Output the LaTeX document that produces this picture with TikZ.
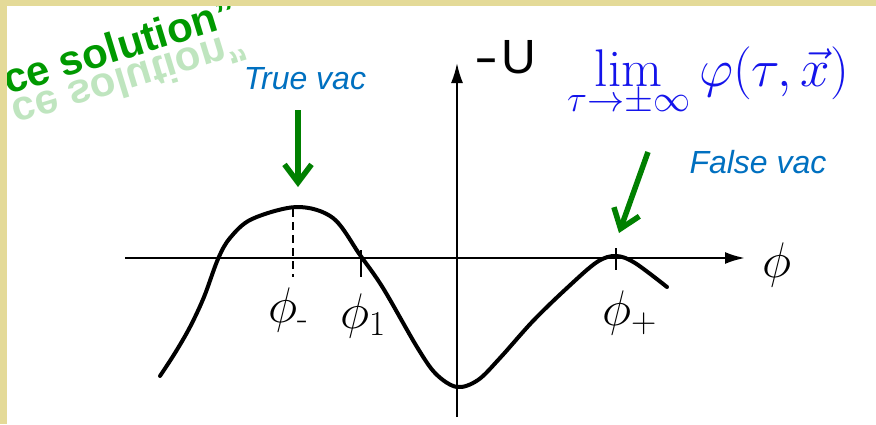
\RequirePackage{fix-cm}
\documentclass[tikz,border=0pt]{standalone}
\usepackage{amsmath}
\usepackage{fontspec}
\setsansfont{Liberation Sans}
\usepackage{tikz}
\usetikzlibrary{arrows.meta, calc}
\usepackage{xcolor}
\definecolor{framebeige}{RGB}{228, 218, 152}
\definecolor{vacblue}{RGB}{0, 112, 192}
\definecolor{vacgreen}{RGB}{0, 128, 0}
\definecolor{titlegreen}{RGB}{0, 153, 0}
\definecolor{limblue}{RGB}{20, 20, 235}

\begin{document}
\begin{tikzpicture}[x=1pt, y=-1pt,
  axis/.style={line width=2.5pt, -{Latex[length=20pt, width=12pt]}},
  curve/.style={line width=4pt, line join=round, line cap=round},
  phitick/.style={line width=2.5pt},
  vaclabel/.style={inner sep=0pt, text=vacblue, font=\fontsize{32}{38}\selectfont\sffamily\itshape},
  vacarrow/.style={line width=5.5pt, vacgreen, -{Straight Barb[length=18pt, width=27pt]}},
  philabel/.style={inner sep=0pt, anchor=base west, font=\fontsize{50}{60}\selectfont},
  title/.style={inner sep=0pt, anchor=base west, rotate=17, text=titlegreen,
    font=\fontsize{42}{50}\selectfont\sffamily\bfseries}]
  \fill[white] (0,0) rectangle (876,424);
  \useasboundingbox (0,0) rectangle (876,424);

  \node[title] (soltext) at (8,95) {ce solution”};
  \node[title, yscale=-1, opacity=0.25] (solshadow) at (9.5,102) {ce solution”};

  \coordinate (xstart) at (125,258);
  \coordinate (xend) at (745,258);
  \coordinate (ystart) at (457,417);
  \coordinate (yend) at (457,63);
  \draw[axis] (xstart) -- (xend);
  \draw[axis, line width=2pt] (ystart) -- (yend);

  \draw[curve] plot[smooth, tension=0.55] coordinates {
    (160,376) (175,353) (190,327) (204,297) (218,259) (230,238) (252,219) (297,207)
    (333,218) (360,255) (383,288) (417,347) (436,374) (457,387) (478,380)
    (500,358) (533,321) (567,288) (597,262) (616,256) (635,263) (667,287)};

  \coordinate (phimtop) at (293,209);
  \coordinate (phimbot) at (293,277);
  \draw[line width=2.5pt, dash pattern=on 8pt off 5pt] (phimtop) -- (phimbot);
  \draw[phitick] (361,250) -- (361,277);
  \draw[phitick] (616,248) -- (616,270);

  \node[philabel] (phim) at (268,322) {$\phi_{\text{-}}$};
  \node[philabel] (phione) at (340,328) {$\phi_1$};
  \node[philabel] (phip) at (602,325) {$\phi_+$};
  \node[philabel] (phiaxis) at (762,277) {$\phi$};
  \node[inner sep=0pt, anchor=base west, font=\fontsize{48}{56}\selectfont\sffamily]
    (ulabel) at (474,73) {\scalebox{1.5}[1]{-}\hspace{3pt}U};

  \node[inner sep=0pt, anchor=base west, text=limblue, font=\fontsize{53}{64}\selectfont]
    (limit) at (567,86) {$\displaystyle\lim_{\tau\to\pm\infty}\varphi(\tau,\vec{x})$};

  \node[vaclabel] (truevac) at (305,78.5) {True vac};
  \node[vaclabel] (falsevac) at (758,162.5) {False vac};
  \coordinate (tvtail) at (298,110);
  \coordinate (tvtip) at (298,187);
  \coordinate (fvtail) at (648,152);
  \coordinate (fvtip) at (619,233);
  \draw[vacarrow] (tvtail) -- (tvtip);
  \draw[vacarrow] (fvtail) -- (fvtip);

  \fill[framebeige] (0,0) rectangle (876,5.5);
  \fill[framebeige] (0,0) rectangle (7,424);
\end{tikzpicture}
\end{document}
